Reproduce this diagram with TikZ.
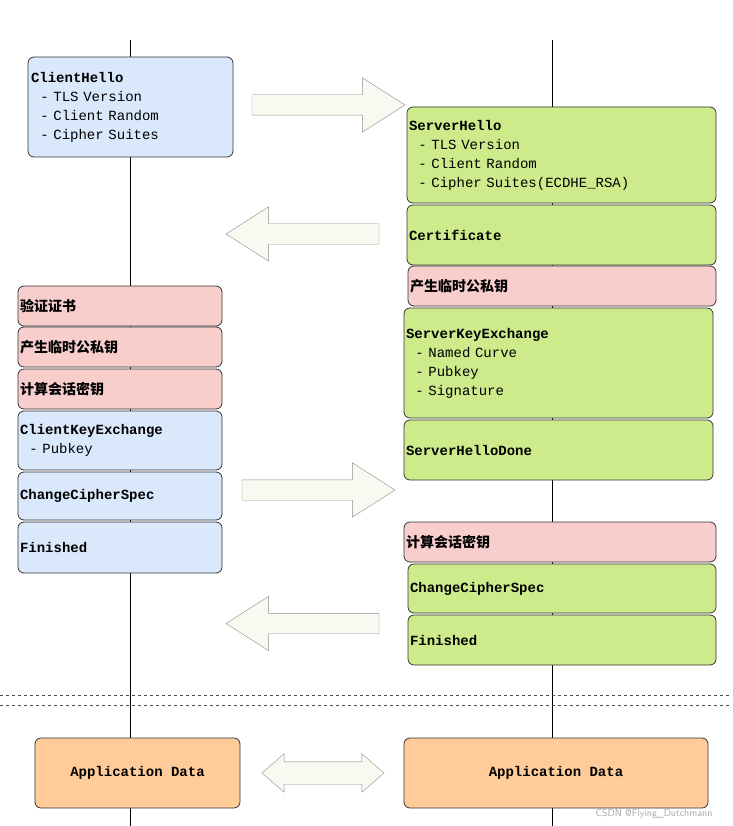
\documentclass[tikz,border=0pt]{standalone}
\usepackage{fontspec}
\setmonofont{Liberation Mono}
\newfontfamily\cjk{Noto Sans CJK SC}
\usetikzlibrary{shapes.arrows,positioning}

\definecolor{cblue}{HTML}{DAE8FC}
\definecolor{cgreen}{HTML}{CDEB8B}
\definecolor{cred}{HTML}{F8CECC}
\definecolor{corange}{HTML}{FFCC99}
\definecolor{civory}{HTML}{F9F9F1}

\begin{document}
\begin{tikzpicture}[x=1pt,y=-1pt,
    blk/.style={rectangle, rounded corners=6pt, draw=black!80, thick, align=left,
        inner sep=0pt, font=\ttfamily\fontsize{14}{19}\selectfont},
    arr/.style={single arrow, draw=black!45, fill=civory, inner sep=10pt,
        minimum width=54pt, single arrow head extend=17pt, single arrow tip angle=65},
    line/.style={thick, black}
]
\useasboundingbox (0,0) rectangle (732,826);

% Lifelines
\coordinate (ctop) at (130,40);
\coordinate (cbot) at (130,826);
\coordinate (stop) at (552,40);
\coordinate (sbot) at (552,826);
\draw[line] (ctop) -- (cbot);
\draw[line] (stop) -- (sbot);

% Separator
\coordinate (sepa) at (0,695);
\coordinate (sepb) at (732,695);
\coordinate (sepc) at (0,705);
\coordinate (sepd) at (732,705);
\draw[dashed, black!70] (sepa) -- (sepb);
\draw[dashed, black!70] (sepc) -- (sepd);

% Client side
\node[blk, fill=cblue, minimum width=205pt, minimum height=100pt, text width=199pt] (chello) at (130.5,107)
    {\textbf{ClientHello}\\\ \ - TLS Version\\\ \ - Client Random\\\ \ - Cipher Suites};
\node[blk, fill=cred, minimum width=204pt, minimum height=40pt, text width=200pt] (cverify) at (120,306)
    {\cjk\bfseries 验证证书};
\node[blk, fill=cred, minimum width=204pt, minimum height=40pt, text width=200pt] (ctemp) at (120,347)
    {\cjk\bfseries 产生临时公私钥};
\node[blk, fill=cred, minimum width=204pt, minimum height=40pt, text width=200pt] (ckey) at (120,389)
    {\cjk\bfseries 计算会话密钥};
\node[blk, fill=cblue, minimum width=204pt, minimum height=59pt, text width=200pt] (ckex) at (120,440.5)
    {\textbf{ClientKeyExchange}\\\ \ - Pubkey};
\node[blk, fill=cblue, minimum width=204pt, minimum height=48pt, text width=200pt] (cccs) at (120,496)
    {\textbf{ChangeCipherSpec}};
\node[blk, fill=cblue, minimum width=204pt, minimum height=51pt, text width=200pt] (cfin) at (120,547.5)
    {\textbf{Finished}};
\node[blk, fill=corange, minimum width=205pt, minimum height=70pt, align=center] (capp) at (137.5,773)
    {\textbf{Application Data}};

% Server side
\node[blk, fill=cgreen, minimum width=309pt, minimum height=96pt, text width=305pt] (shello) at (561.5,155)
    {\textbf{ServerHello}\\\ \ - TLS Version\\\ \ - Client Random\\\ \ - Cipher Suites(ECDHE\_RSA)};
\node[blk, fill=cgreen, minimum width=309pt, minimum height=60pt, text width=305pt] (scert) at (561.5,235)
    {\textbf{Certificate}};
\node[blk, fill=cred, minimum width=308pt, minimum height=40pt, text width=304pt] (stemp) at (562,286)
    {\cjk\bfseries 产生临时公私钥};
\node[blk, fill=cgreen, minimum width=309pt, minimum height=110pt, text width=305pt] (skex) at (558.5,363)
    {\textbf{ServerKeyExchange}\\\ \ - Named Curve\\\ \ - Pubkey\\\ \ - Signature};
\node[blk, fill=cgreen, minimum width=309pt, minimum height=60pt, text width=305pt] (sdone) at (558.5,450)
    {\textbf{ServerHelloDone}};
\node[blk, fill=cred, minimum width=312pt, minimum height=40pt, text width=308pt] (skey) at (560,542)
    {\cjk\bfseries 计算会话密钥};
\node[blk, fill=cgreen, minimum width=308pt, minimum height=49pt, text width=304pt] (sccs) at (562,588.5)
    {\textbf{ChangeCipherSpec}};
\node[blk, fill=cgreen, minimum width=308pt, minimum height=50pt, text width=304pt] (sfin) at (562,640)
    {\textbf{Finished}};
\node[blk, fill=corange, minimum width=304pt, minimum height=70pt, align=center] (sapp) at (556,773)
    {\textbf{Application Data}};

% Message arrows
\node[arr, minimum height=153pt] (m1) at (320.5,105) {};
\node[arr, minimum height=153pt, shape border rotate=180] (m2) at (310.5,234) {};
\node[arr, minimum height=153pt] (m3) at (310.5,490) {};
\node[arr, minimum height=153pt, shape border rotate=180] (m4) at (310.5,623.5) {};
\node[double arrow, draw=black!45, fill=civory, inner sep=11pt, minimum width=38pt,
    minimum height=122pt, double arrow head extend=8pt, double arrow tip angle=82] (m5) at (323,773) {};

\node[font=\sffamily\fontsize{10}{12}\selectfont, text=black!35, anchor=south east] (wm) at (716,822) {CSDN @Flying\_Dutchmann};
\end{tikzpicture}
\end{document}
